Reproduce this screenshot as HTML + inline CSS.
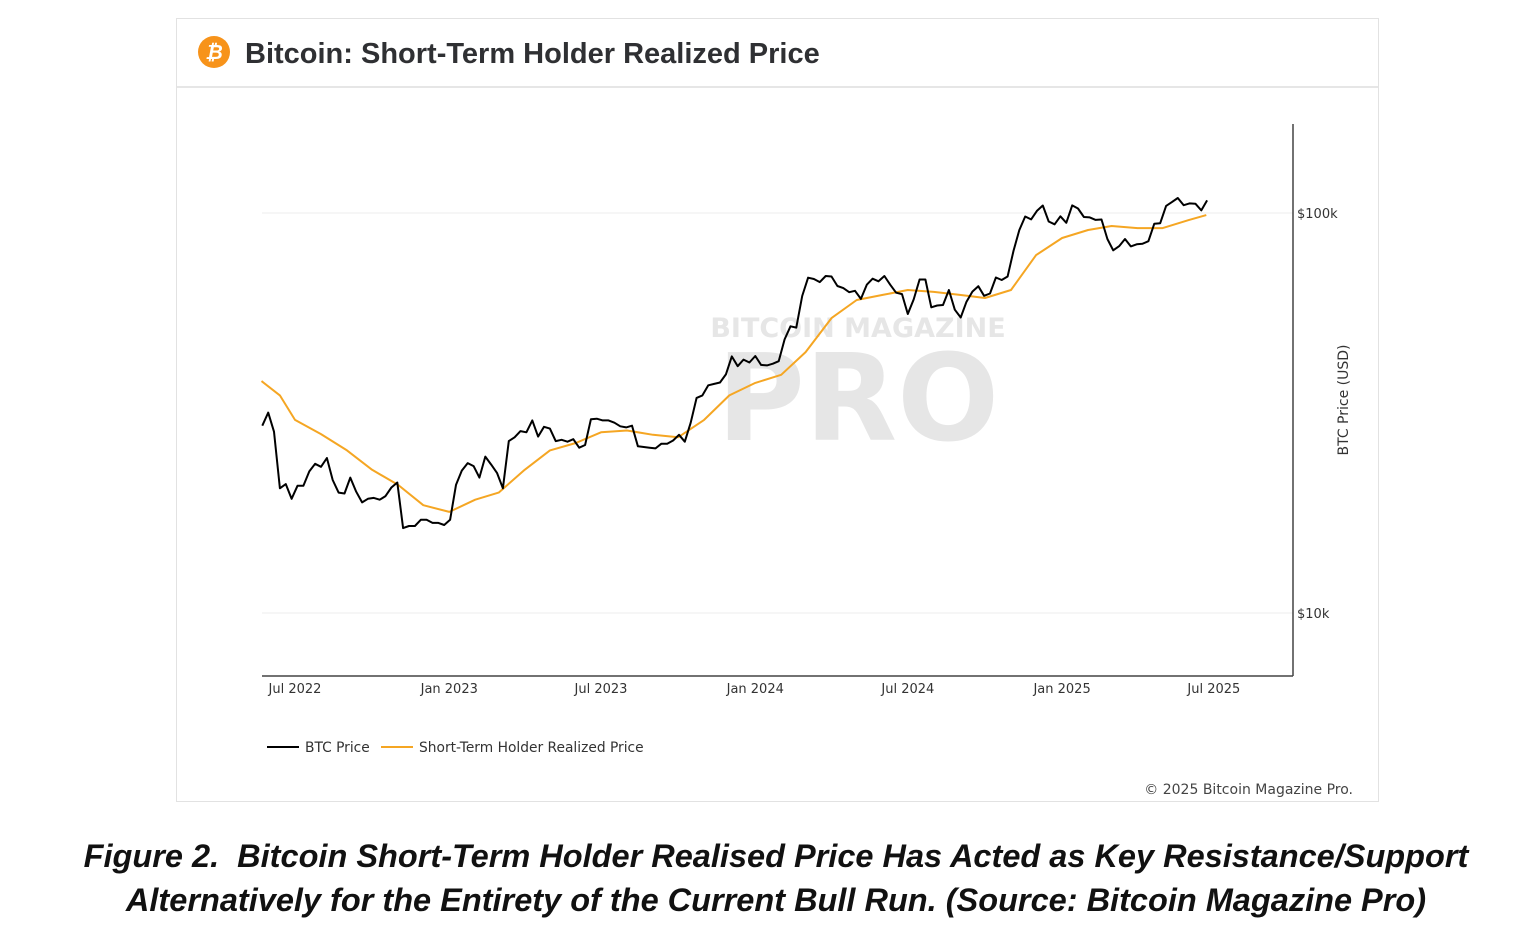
<!DOCTYPE html>
<html><head><meta charset="utf-8">
<style>
html,body{margin:0;padding:0;background:#fff;width:1528px;height:934px;overflow:hidden;font-family:"Liberation Sans","DejaVu Sans",sans-serif;}
#card{position:absolute;left:176px;top:18px;width:1203px;height:784px;border:1px solid #e2e2e2;box-sizing:border-box;}
#hdr{position:absolute;left:0;top:0;width:100%;height:67px;border-bottom:2px solid #e6e6e6;}
#title{position:absolute;left:68px;top:19px;font-size:29px;font-weight:bold;color:#2f3033;}
#caption{position:absolute;left:12px;top:834px;width:1528px;text-align:center;font-size:32.5px;font-weight:bold;font-style:italic;color:#111;line-height:44px;}
svg text{font-family:"DejaVu Sans","Liberation Sans",sans-serif;}
</style></head><body>
<div id="card">
 <div id="hdr">
  <svg style="position:absolute;left:21px;top:17px" width="34" height="34">
   <circle cx="16" cy="16" r="16" fill="#f7931a"/>
   <text x="16" y="23" text-anchor="middle" font-size="20" font-weight="bold" fill="#fff" font-style="italic">₿</text>
  </svg>
  <div id="title">Bitcoin: Short-Term Holder Realized Price</div>
 </div>
</div>
<svg id="chart" width="1528" height="934" style="position:absolute;left:0;top:0">
 <g fill="#e3e3e3">
  <text x="858" y="337" text-anchor="middle" font-size="27" font-weight="bold" fill="#e6e6e6">BITCOIN MAGAZINE</text>
  <text x="858" y="440" text-anchor="middle" font-size="120" font-weight="bold" fill="#e6e6e6">PRO</text>
 </g>
 <g id="grid"></g>
 <g id="series"></g>
 <g id="axes"></g>
 <text x="1348" y="400" transform="rotate(-90 1348 400)" text-anchor="middle" font-size="14" fill="#333">BTC Price (USD)</text>
 <g>
  <g><line x1="267" y1="747" x2="299" y2="747" stroke="#000" stroke-width="2"/><text x="305" y="752" font-size="13.8" fill="#333">BTC Price</text></g>
  <g><line x1="381" y1="747" x2="413" y2="747" stroke="#f5a623" stroke-width="2"/><text x="419" y="752" font-size="13.8" fill="#333">Short-Term Holder Realized Price</text></g>
 </g>
 <text x="1353" y="794" text-anchor="end" font-size="14" fill="#444">© 2025 Bitcoin Magazine Pro.</text>
</svg>
<div id="caption">Figure 2.&nbsp; Bitcoin Short-Term Holder Realised Price Has Acted as Key Resistance/Support<br>Alternatively for the Entirety of the Current Bull Run. (Source: Bitcoin Magazine Pro)</div>
<script>
const btcStart = "2022-05-23";
const btcPrices = [29.4,31.7,28.4,20.5,21.0,19.3,20.8,20.8,22.6,23.6,23.2,24.4,21.5,20.0,19.9,21.8,20.1,18.9,19.3,19.4,19.2,19.6,20.6,21.2,16.3,16.5,16.5,17.1,17.1,16.8,16.8,16.6,
17.1,20.9,22.7,23.7,23.3,21.8,24.6,23.5,22.4,20.5,26.9,27.5,28.5,28.3,30.3,27.6,29.2,28.9,26.9,27.1,26.8,27.2,25.9,26.3,30.5,30.6,30.3,30.3,29.9,29.3,29.1,29.4,26.1,26.0,25.9,25.8,26.5,26.5,27.0,27.9,26.8,29.9,34.5,35.0,37.1,37.4,37.7,39.5,43.8,41.4,43.0,42.3,
43.9,41.7,41.6,42.0,42.6,48.3,52.1,51.7,62.0,68.9,68.4,67.2,69.6,69.4,65.7,64.9,63.4,63.9,61.0,66.2,68.5,67.5,69.6,66.2,63.2,62.7,55.9,60.8,68.2,68.2,58.1,58.7,58.9,64.2,57.3,54.8,60.0,63.6,65.6,62.1,62.9,69.0,68.0,69.4,80.4,90.6,98.0,96.4,101.2,104.4,95.2,93.7,98.1,
94.5,104.5,102.6,97.7,97.5,96.1,96.3,86.1,80.7,82.6,86.1,82.5,83.5,83.8,85.0,94.0,94.3,104.2,106.5,109.0,104.6,105.7,105.5,101.5,107.5];
const sthDates = ["2022-05-22","2022-06-13","2022-07-01","2022-08-01","2022-09-01","2022-10-01","2022-11-01","2022-12-01","2023-01-01","2023-02-01","2023-03-01","2023-04-01","2023-05-01","2023-06-01","2023-07-01","2023-08-01","2023-09-01","2023-10-01","2023-11-01","2023-12-01","2024-01-01","2024-02-01","2024-03-01","2024-04-01","2024-05-01","2024-06-01","2024-07-01","2024-08-01","2024-09-01","2024-10-01","2024-11-01","2024-12-01","2025-01-01","2025-02-01","2025-03-01","2025-04-01","2025-05-01","2025-06-01","2025-06-22"];
const sthPrices = [38,35,30.4,28,25.5,22.8,20.9,18.6,17.9,19.2,20,22.8,25.5,26.6,28.3,28.6,27.9,27.5,30.4,35,37.6,39.4,44.9,54.6,60.6,62.4,64.2,63.5,62.4,61.3,64.2,78.5,86.6,90.7,92.8,91.7,91.7,96,98.8];
const xTickLabels = ["Jul 2022","Jan 2023","Jul 2023","Jan 2024","Jul 2024","Jan 2025","Jul 2025"];
const xTickDates = ["2022-07-01","2023-01-01","2023-07-01","2024-01-01","2024-07-01","2025-01-01","2025-07-01"];
const yTickValues = [10,100];
const yTickLabels = ["$10k","$100k"];

const NS="http://www.w3.org/2000/svg";
const X0=262,X1=1293,YTOP=124,YBOT=676;
const refT=Date.parse("2022-07-01"), pxPerDay=306/365;
function xScale(d){return 295+(Date.parse(d)-refT)/86400000*pxPerDay;}
function xScaleT(t){return 295+(t-refT)/86400000*pxPerDay;}
function yScale(p){return 213+(2-Math.log10(p))*400;}
function mk(tag,attrs,parent){const e=document.createElementNS(NS,tag);for(const k in attrs)e.setAttribute(k,attrs[k]);parent.appendChild(e);return e;}
const grid=document.getElementById('grid'),axes=document.getElementById('axes'),series=document.getElementById('series');
yTickValues.forEach((v,i)=>{
 const y=yScale(v);
 const l=mk('line',{x1:X0,x2:X1,y1:y,y2:y,stroke:'#ececec','stroke-width':1},grid);
 
 
 const t=mk('text',{x:1297,y:y+5,'font-size':13,fill:'#333'},axes);
 t.textContent=yTickLabels[i];
 
 
});
const ax=mk('line',{x1:X0,x2:X1,y1:YBOT,y2:YBOT,stroke:'#444','stroke-width':1.5},axes);


const ay=mk('line',{x1:X1,x2:X1,y1:YTOP,y2:YBOT,stroke:'#444','stroke-width':1.5},axes);


xTickDates.forEach((d,i)=>{
 const t=mk('text',{x:xScale(d),y:693,'font-size':13,fill:'#333','text-anchor':'middle'},axes);
 t.textContent=xTickLabels[i];
 
 
});
const sthPts=sthDates.map((d,i)=>xScale(d).toFixed(1)+','+yScale(sthPrices[i]).toFixed(1)).join(' ');
const sth=mk('polyline',{points:sthPts,fill:'none',stroke:'#f5a623','stroke-width':2,'stroke-linejoin':'round'},series);


const t0=Date.parse(btcStart);
const btcPts=btcPrices.map((p,i)=>xScaleT(t0+i*7*86400000).toFixed(1)+','+yScale(p).toFixed(1)).join(' ');
const btc=mk('polyline',{points:btcPts,fill:'none',stroke:'#000','stroke-width':2,'stroke-linejoin':'round'},series);


</script>
</body></html>
